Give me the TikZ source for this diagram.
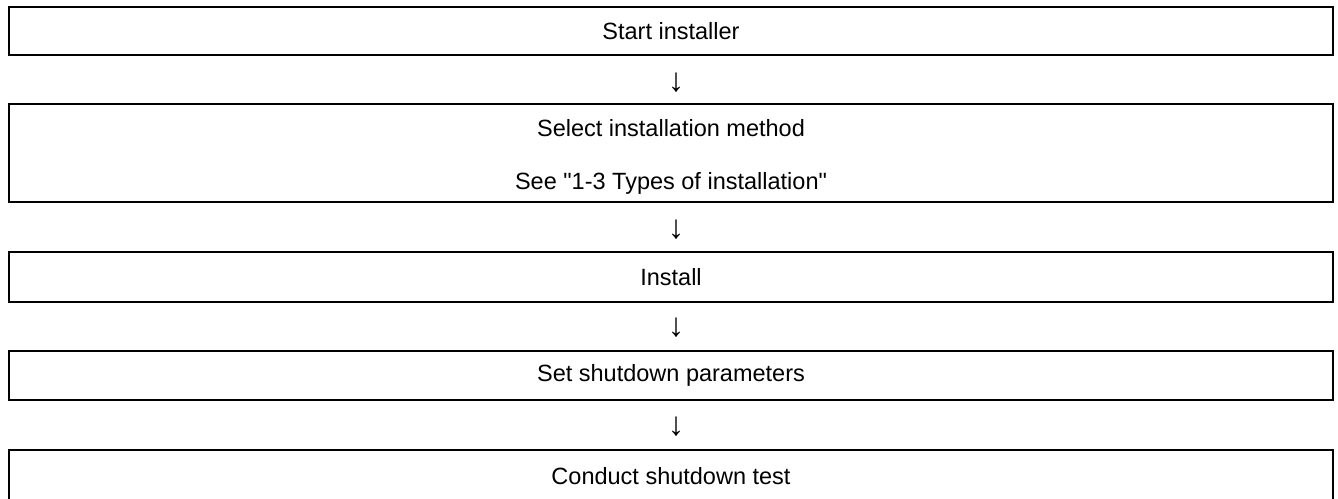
\documentclass[tikz,border=0pt]{standalone}
\usepackage{fontspec}
\setmainfont{Liberation Sans}
\newcommand\dq{\XeTeXglyph\XeTeXcharglyph"22\relax}
\begin{document}
\begin{tikzpicture}[x=1pt,y=-1pt,
  stepbox/.style={draw=black, line width=1.6pt, minimum width=1324pt, inner sep=0pt,
    align=center, font=\fontsize{23.5}{53}\selectfont},
  txt/.style={inner sep=0pt, align=center, font=\fontsize{23.5}{53}\selectfont},
  arr/.style={inner sep=0pt, font=\fontsize{33}{36}\selectfont}]
\useasboundingbox (0,0) rectangle (1338,498);
\node[stepbox, minimum height=48pt] (b1) at (671,31) {Start installer};
\node[stepbox, minimum height=98pt] (b2) at (671,153) {};
\node[txt] (t2) at (671,157) {Select installation method\\See \dq 1-3 Types of installation\dq};
\node[stepbox, minimum height=50pt] (b3) at (671,277) {Install};
\node[stepbox, minimum height=49pt] (b4) at (671,375.5) {Set shutdown parameters};
\node[stepbox, minimum height=53pt] (b5) at (671,476.5) {Conduct shutdown test};
\node[arr] (a1) at (676,83) {↓};
\node[arr] (a2) at (676,230) {↓};
\node[arr] (a3) at (676,328) {↓};
\node[arr] (a4) at (676,427) {↓};
\end{tikzpicture}
\end{document}
